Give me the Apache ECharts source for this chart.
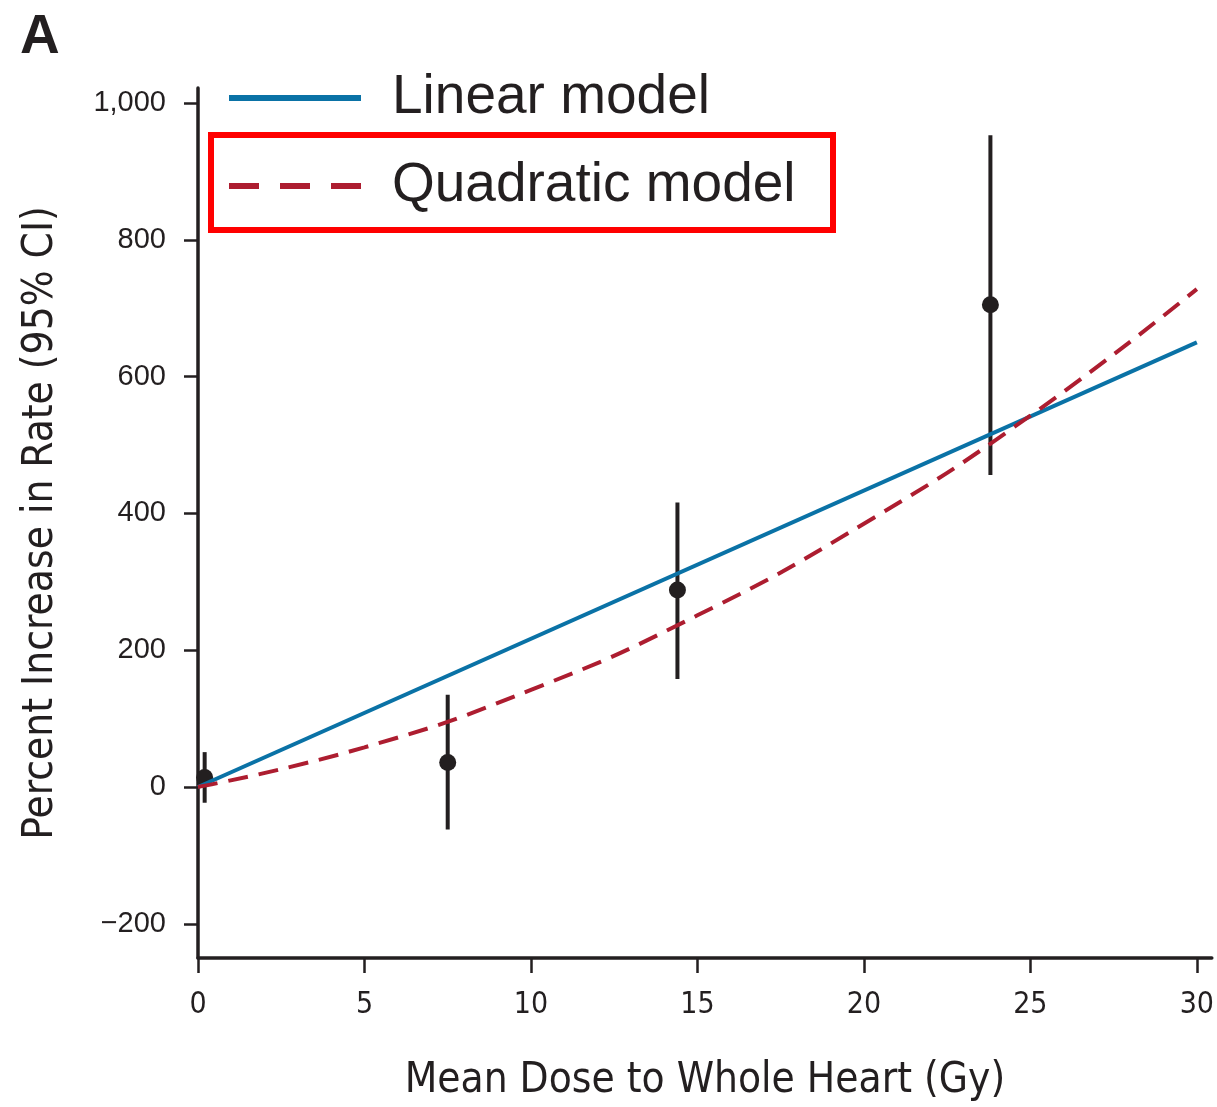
<!DOCTYPE html>
<html>
<head>
<meta charset="utf-8">
<title>Mean Dose to Whole Heart</title>
<script src="https://cdn.jsdelivr.net/npm/echarts@6/dist/echarts.min.js"></script>
<style>
  html, body { margin: 0; padding: 0; background: #fff; }
  #chart { width: 1217px; height: 1107px; }
</style>
</head>
<body>
<div id="chart"></div>
<script>
// observed points: dose, estimate, lower CI, upper CI
const doses = [0.2, 7.5, 14.4, 23.8];
const estimates = [14, 36, 288, 705];
const lowerCI = [-23, -62, 158, 456];
const upperCI = [51, 135, 416, 953];

// fitted model curves
const linearModel = [[0, 0], [30, 650]];
const quadraticModel = [[0, 0], [5, 58], [10, 142], [15, 251], [20, 385], [25, 543], [30, 728]];

const xTicks = [0, 5, 10, 15, 20, 25, 30];
const yTicks = [-200, 0, 200, 400, 600, 800, 1000];

const ink = '#231f20';
const condensed = "'DejaVu Sans Condensed', 'DejaVu Sans', sans-serif";

function yLabel(v) {
  if (v < 0) return '\u2212' + Math.abs(v);
  if (v >= 1000) return v.toLocaleString('en-US');
  return String(v);
}

const errorData = doses.map((d, i) => [d, lowerCI[i], upperCI[i]]);
const pointData = doses.map((d, i) => [d, estimates[i]]);

let myChart = echarts.init(document.getElementById('chart'));
myChart.setOption({
  animation: false,
  title: {
    text: 'A',
    left: 15,
    top: 5,
    textStyle: { fontFamily: 'Liberation Sans', fontSize: 55, fontWeight: 'bold', color: ink }
  },
  legend: {
    orient: 'vertical',
    left: 221,
    top: 63,
    itemWidth: 132,
    itemHeight: 20,
    itemGap: 28,
    textStyle: {
      fontFamily: 'Liberation Sans',
      fontSize: 55,
      color: ink,
      lineHeight: 60,
      padding: [0, 0, 0, 26]
    },
    data: [
      { name: 'Linear model', itemStyle: { opacity: 0 }, lineStyle: { width: 6, color: '#0a72a6' } },
      { name: 'Quadratic model', itemStyle: { opacity: 0 }, lineStyle: { width: 6, color: '#ad1d30', type: [30, 21] } }
    ]
  },
  grid: { left: 198, right: 4, top: 88, bottom: 136 },
  xAxis: {
    type: 'value',
    min: 0,
    max: 30.45,
    name: 'Mean Dose to Whole Heart (Gy)',
    nameLocation: 'middle',
    nameGap: 102,
    nameTextStyle: { fontFamily: condensed, fontSize: 42, color: ink },
    splitLine: { show: false },
    axisLine: { onZero: false, lineStyle: { color: ink, width: 3.5 } },
    axisTick: { customValues: xTicks, length: 15, lineStyle: { color: ink, width: 2.5 } },
    axisLabel: {
      customValues: xTicks,
      margin: 32,
      fontFamily: condensed,
      fontSize: 30,
      color: ink
    }
  },
  yAxis: {
    type: 'value',
    min: -250,
    max: 1022,
    name: 'Percent Increase in Rate (95% CI)',
    nameLocation: 'middle',
    nameGap: 136,
    nameTextStyle: { fontFamily: condensed, fontSize: 42, color: ink },
    splitLine: { show: false },
    axisLine: { onZero: false, lineStyle: { color: ink, width: 3.5 } },
    axisTick: { customValues: yTicks, length: 14, lineStyle: { color: ink, width: 2.5 } },
    axisLabel: {
      customValues: yTicks,
      margin: 32,
      fontFamily: 'Liberation Sans',
      fontSize: 29,
      color: ink,
      formatter: yLabel
    }
  },
  series: [
    {
      name: 'CI',
      type: 'custom',
      z: 1,
      data: errorData,
      renderItem: function (params, api) {
        const lo = api.coord([api.value(0), api.value(1)]);
        const hi = api.coord([api.value(0), api.value(2)]);
        return {
          type: 'line',
          shape: { x1: lo[0], y1: lo[1], x2: hi[0], y2: hi[1] },
          style: { stroke: ink, lineWidth: 4 }
        };
      }
    },
    {
      name: 'Estimate',
      type: 'scatter',
      z: 2,
      symbolSize: 17,
      itemStyle: { color: ink, opacity: 1 },
      data: pointData
    },
    {
      name: 'Linear model',
      type: 'line',
      z: 3,
      symbol: 'none',
      data: linearModel,
      lineStyle: { color: '#0a72a6', width: 4 },
      itemStyle: { color: '#0a72a6' }
    },
    {
      name: 'Quadratic model',
      type: 'line',
      z: 3,
      symbol: 'none',
      smooth: true,
      data: quadraticModel,
      lineStyle: { color: '#ad1d30', width: 4, type: [20, 11] },
      itemStyle: { color: '#ad1d30' }
    }
  ],
  graphic: [
    {
      type: 'rect',
      z: 100,
      shape: { x: 211, y: 135, width: 622, height: 95 },
      style: { fill: 'none', stroke: '#ff0000', lineWidth: 6 }
    }
  ]
});
</script>
</body>
</html>
